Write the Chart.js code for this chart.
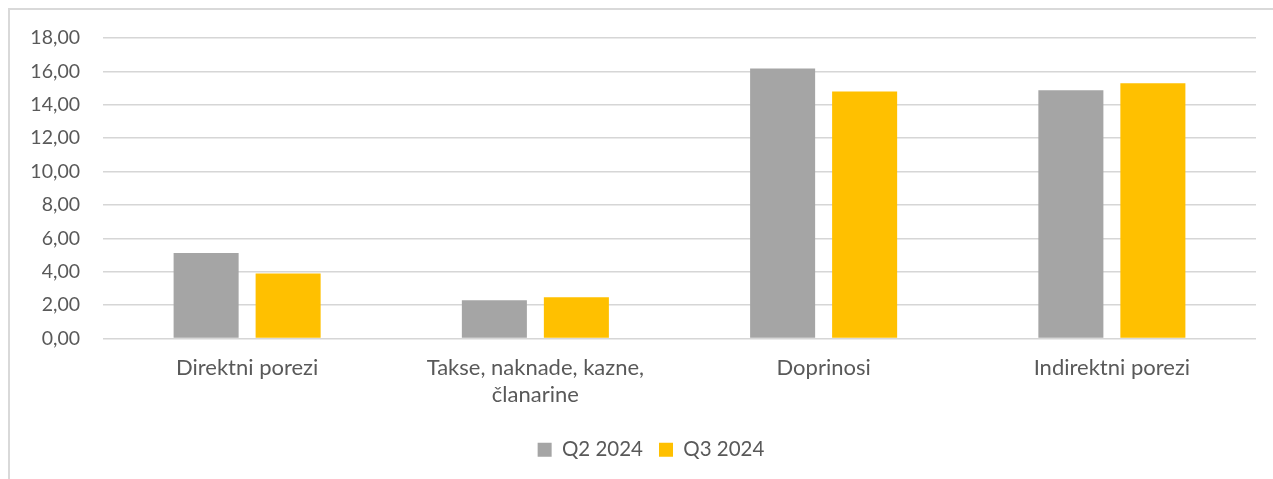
<!DOCTYPE html>
<html>
<head>
<meta charset="utf-8">
<script src="https://cdn.jsdelivr.net/npm/chart.js@4.4.1/dist/chart.umd.min.js"></script>
<style>
  html, body { margin: 0; padding: 0; background: #fff; }
  #wrap { position: relative; width: 1273px; height: 479px; overflow: hidden; }
  #frame { position: absolute; left: 8px; top: 8px; width: 1300px; height: 500px;
           border-left: 2px solid #d9d9d9; border-top: 2px solid #d9d9d9; box-sizing: border-box; }
  #c { position: absolute; left: 0; top: 0; }
</style>
</head>
<body>
<div id="wrap">
  <div id="frame"></div>
  <canvas id="c" width="1273" height="479"></canvas>
</div>
<script>
// podaci
const categories = ['Direktni porezi', ['Takse, naknade, kazne,', 'članarine'], 'Doprinosi', 'Indirektni porezi'];
const seriesNames = ['Q2 2024', 'Q3 2024'];
const q2Values = [5.12, 2.29, 16.18, 14.87];
const q3Values = [3.90, 2.47, 14.79, 15.29];
const yTicks = [0, 2, 4, 6, 8, 10, 12, 14, 16, 18];

const FONT = 'Lato, "Liberation Sans", sans-serif';
const TEXT = '#595959';

// legenda u originalu nije centrirana na platnu, pomak udesno
const legendShift = {
  id: 'legendShift',
  afterLayout(chart) {
    chart.legend.left += 23;
    chart.legend.right += 23;
  }
};

new Chart(document.getElementById('c'), {
  type: 'bar',
  data: {
    labels: categories,
    datasets: [
      { label: seriesNames[0], data: q2Values, backgroundColor: '#a5a5a5' },
      { label: seriesNames[1], data: q3Values, backgroundColor: '#ffc000' }
    ]
  },
  options: {
    responsive: false,
    animation: false,
    devicePixelRatio: 1,
    layout: { padding: { left: 0, right: 17, top: 38, bottom: 9 } },
    datasets: { bar: { categoryPercentage: 0.569, barPercentage: 0.793 } },
    plugins: {
      tooltip: { enabled: false },
      title: { display: false },
      legend: {
        position: 'bottom',
        labels: {
          color: TEXT, font: { family: FONT, size: 20.5 },
          boxWidth: 14, boxHeight: 14, padding: 16
        }
      }
    },
    scales: {
      x: {
        grid: { display: false, drawTicks: false },
        border: { display: false },
        ticks: { color: TEXT, font: { family: FONT, size: 22, lineHeight: 1.21 }, padding: 16, maxRotation: 0, autoSkip: false },
        afterFit: s => { s.height = 85; }
      },
      y: {
        min: 0, max: 18,
        afterBuildTicks: s => { s.ticks = yTicks.map(v => ({ value: v })); },
        grid: { color: '#d6d6d6', lineWidth: 1.6, drawTicks: false },
        border: { display: false },
        ticks: {
          color: TEXT, font: { family: FONT, size: 19.5 }, padding: 23,
          callback: v => v.toFixed(2).replace('.', ',')
        },
        afterFit: s => { s.width = 103; }
      }
    }
  },
  plugins: [legendShift]
});
</script>
</body>
</html>
